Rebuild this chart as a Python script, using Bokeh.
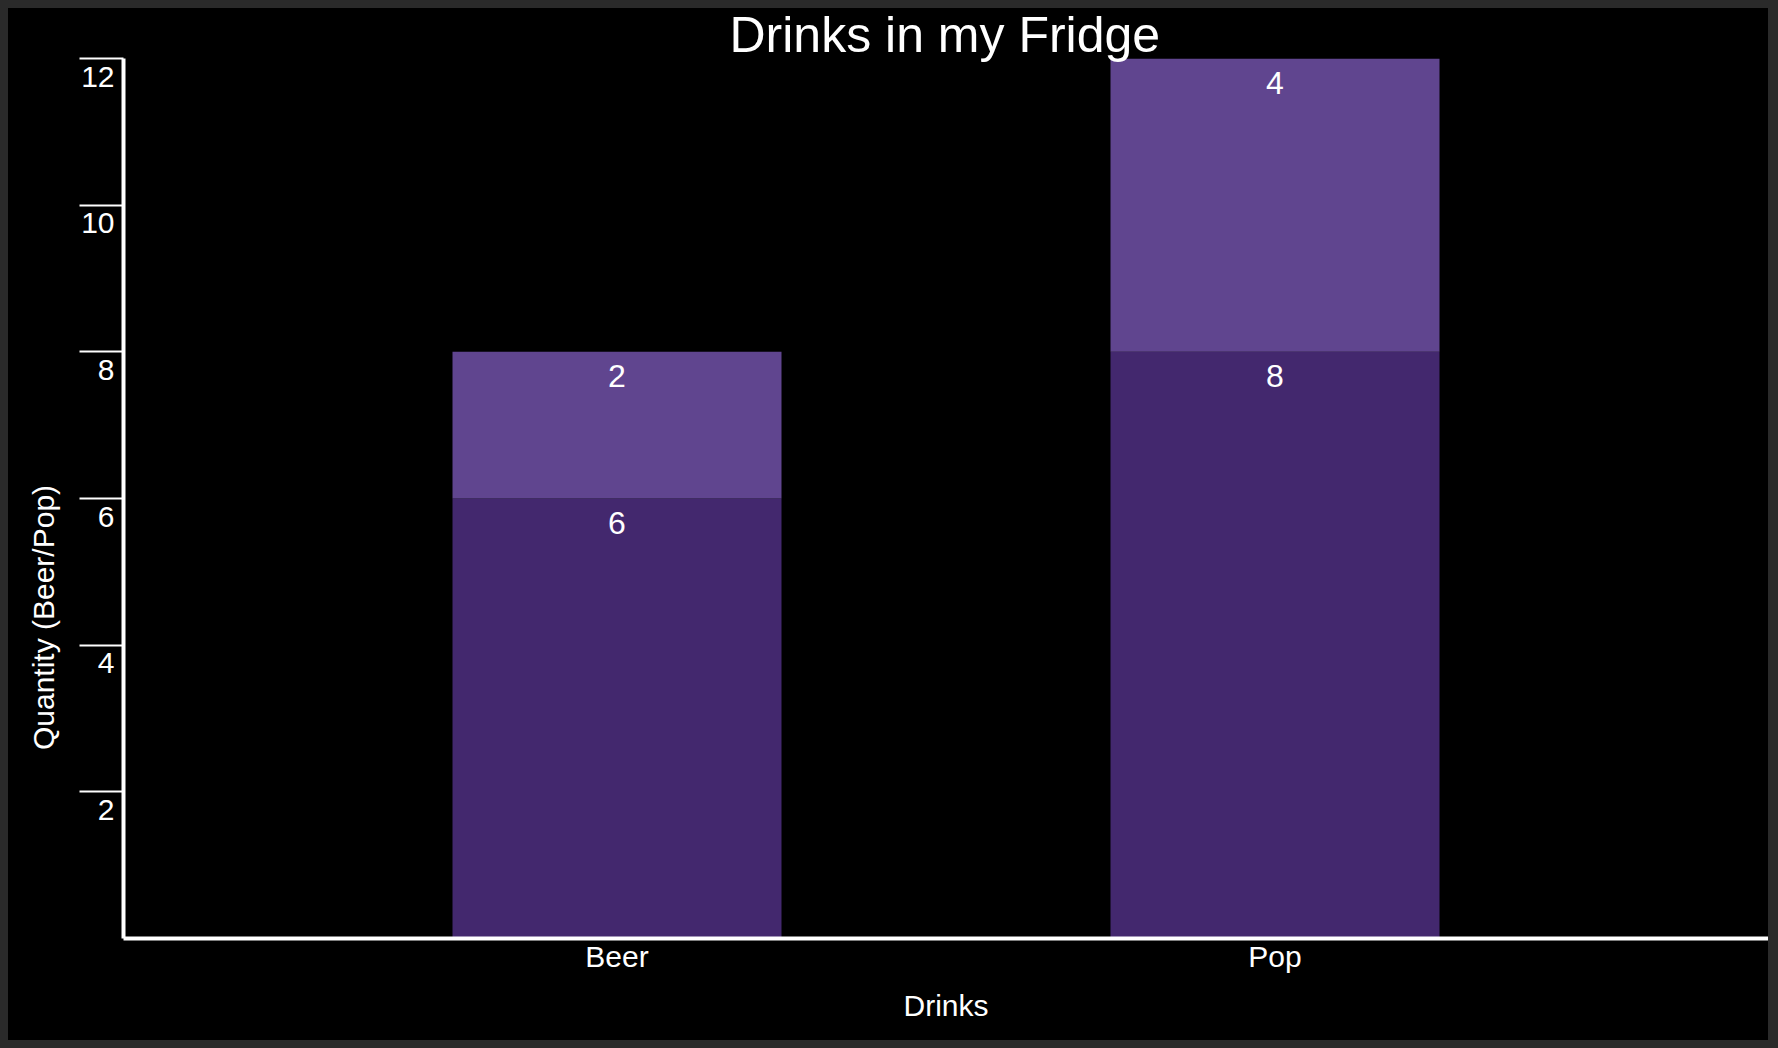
import math
from bokeh.plotting import figure
from bokeh.layouts import row
from bokeh.models import (FactorRange, Range1d, FixedTicker, ColumnDataSource,
                          LinearAxis, Label)
from bokeh.transform import stack
from bokeh.core.properties import value
from bokeh.embed import file_html
from bokeh.resources import INLINE

# ---- data ----
drinks = ["Beer", "Pop"]
base_qty = [6, 8]
extra_qty = [2, 4]
y_ticks = [2, 4, 6, 8, 10, 12]
title_text = "Drinks in my Fridge"
x_title = "Drinks"
y_title = "Quantity (Beer/Pop)"

FONT = "Liberation Sans"
LBL = "30px"
bar_colors = ["#43286e", "#60458f"]
TOP, BOTTOM = 50, 102

source = ColumnDataSource(dict(
    drinks=drinks,
    base=base_qty,
    extra=extra_qty,
    base_lbl=[str(v) for v in base_qty],
    extra_lbl=[str(v) for v in extra_qty],
))

y_range = Range1d(0, 12)

p = figure(
    x_range=FactorRange(*drinks, range_padding=0.25),
    y_range=y_range,
    width=1690, height=1032,
    output_backend="svg", toolbar_location=None,
    background_fill_color="black", border_fill_color="black",
    outline_line_color=None,
    min_border_left=44, min_border_right=0,
    min_border_top=TOP, min_border_bottom=BOTTOM,
)
p.title.text = title_text
p.title.text_color = "white"
p.title.text_font = FONT
p.title.text_font_size = "50px"
p.title.text_font_style = "normal"
p.title.align = "left"
p.title.offset = 606
p.title.standoff = -9

p.vbar_stack(["base", "extra"], x="drinks", width=0.5, source=source,
             fill_color=bar_colors, line_color=None)

# value labels inside segments
p.text(x="drinks", y=stack("base"), text="base_lbl", source=source,
       text_color="white", text_font=value(FONT), text_font_size="32px",
       text_align="center", text_baseline="top", y_offset=13)
p.text(x="drinks", y=stack("base", "extra"), text="extra_lbl", source=source,
       text_color="white", text_font=value(FONT), text_font_size="32px",
       text_align="center", text_baseline="top", y_offset=13)

p.grid.grid_line_color = None

# x axis
xa = p.xaxis[0]
xa.axis_line_color = "white"
xa.axis_line_width = 4
xa.major_tick_line_color = None
xa.minor_tick_line_color = None
xa.major_label_text_color = "white"
xa.major_label_text_font = FONT
xa.major_label_text_font_size = LBL
xa.major_label_standoff = -5
xa.axis_label = x_title
xa.axis_label_text_color = "white"
xa.axis_label_text_font = FONT
xa.axis_label_text_font_size = LBL
xa.axis_label_text_font_style = "normal"
xa.axis_label_standoff = 13

# y axis: line + ticks
ya = p.yaxis[0]
ya.ticker = FixedTicker(ticks=y_ticks)
ya.axis_line_color = "white"
ya.axis_line_width = 4
ya.major_tick_line_color = "white"
ya.major_tick_line_width = 2
ya.major_tick_out = 44
ya.major_tick_in = 0
ya.minor_tick_line_color = None
ya.major_label_standoff = 0
ya.major_label_overrides = {t: "" for t in y_ticks}

# y tick labels, drawn slightly below their ticks (as in the original)
px_per_unit = (1032 - TOP - BOTTOM) / (y_range.end - y_range.start)
shift = 18 / px_per_unit
p.extra_y_ranges = {"lbl": Range1d(y_range.start + shift, y_range.end + shift)}
ya2 = LinearAxis(y_range_name="lbl", ticker=FixedTicker(ticks=y_ticks))
ya2.axis_line_color = None
ya2.major_tick_line_color = None
ya2.minor_tick_line_color = None
ya2.major_tick_out = 0
ya2.major_tick_in = 0
ya2.major_label_standoff = -35
ya2.major_label_text_color = "white"
ya2.major_label_text_font = FONT
ya2.major_label_text_font_size = LBL
p.add_layout(ya2, "left")

# narrow companion panel holding the y-axis title
q = figure(
    x_range=Range1d(0, 1), y_range=y_range,
    width=70, height=1032,
    output_backend="svg", toolbar_location=None, title=None,
    x_axis_location=None, y_axis_location=None,
    background_fill_color="black", border_fill_color="black",
    outline_line_color=None,
    min_border_left=0, min_border_right=0,
    min_border_top=TOP, min_border_bottom=BOTTOM,
)
q.grid.grid_line_color = None
q.add_layout(Label(x=35, y=321, x_units="screen", y_units="screen",
                   text=y_title, angle=math.pi / 2, text_color="white",
                   text_font=FONT, text_font_size=LBL,
                   text_align="center", text_baseline="middle"))

layout = row(q, p, spacing=0, styles={"background-color": "black"})

html = file_html(layout, INLINE)
style = ('<style>html, body { background-color: #2a2a2a !important; } '
         'body { padding: 8px !important; }</style>')
html = html.replace("</head>", style + "</head>", 1)
open("out.html", "w").write(html)
